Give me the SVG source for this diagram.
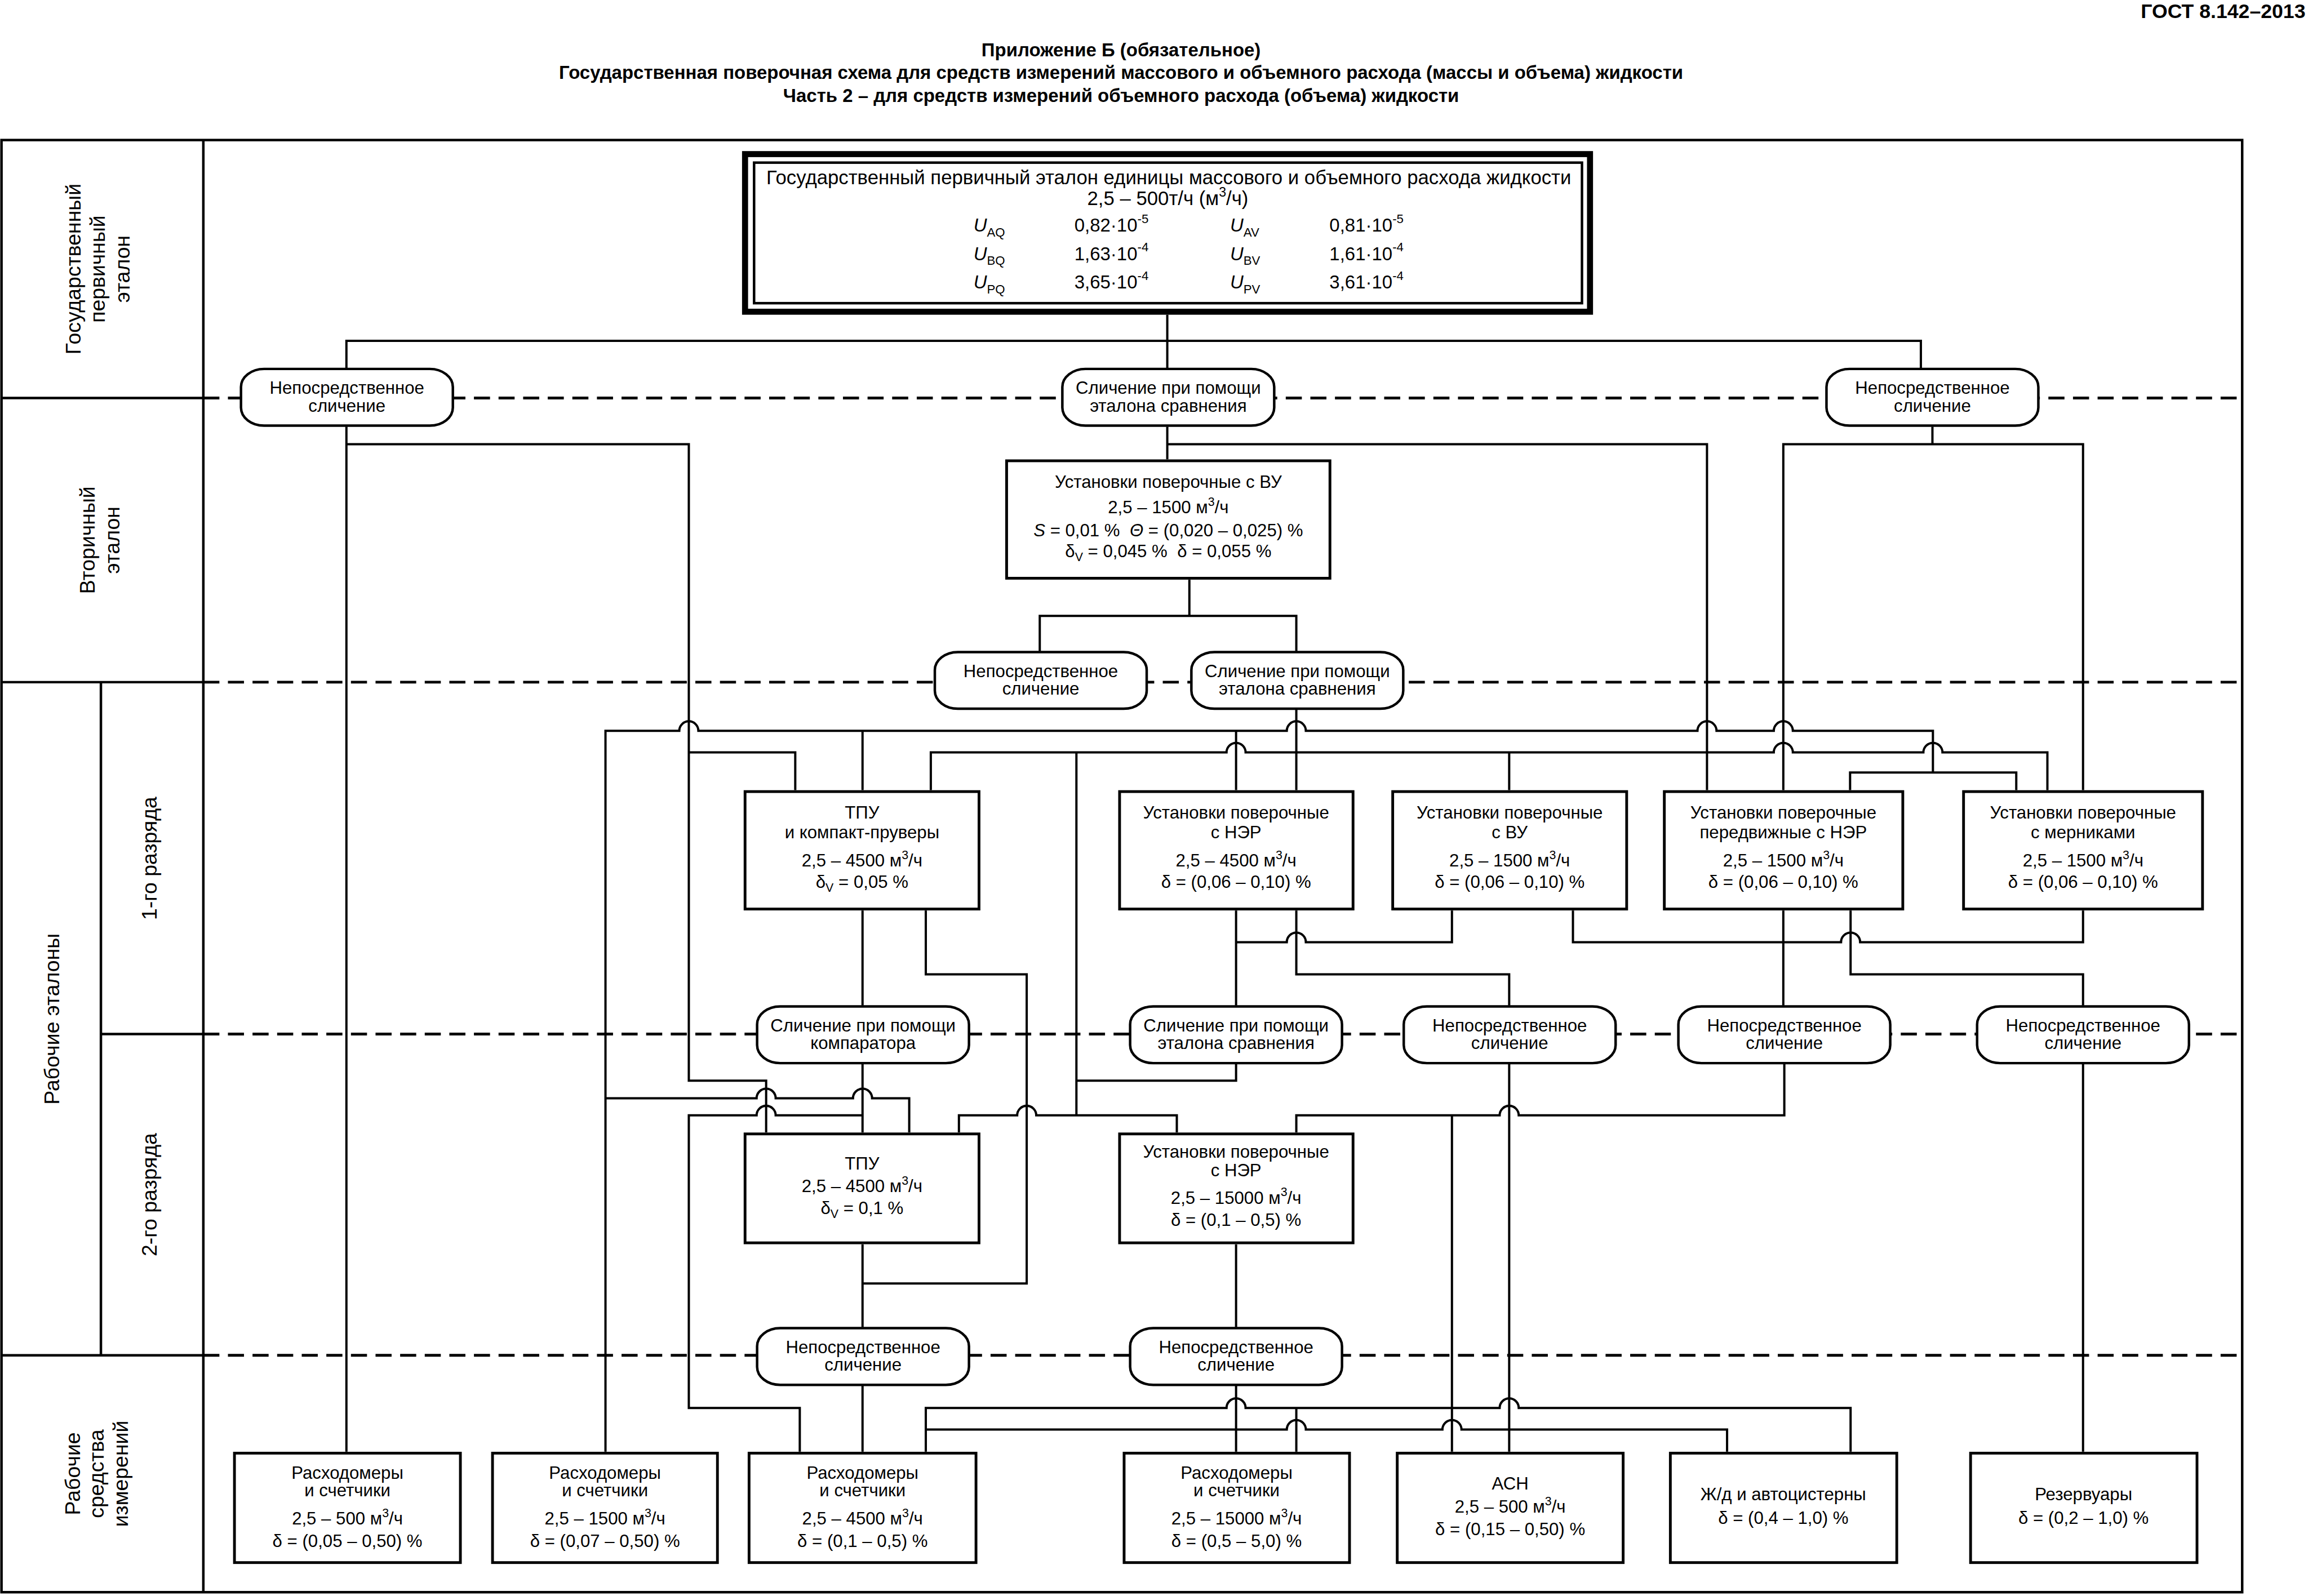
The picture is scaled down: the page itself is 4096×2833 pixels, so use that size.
<svg xmlns="http://www.w3.org/2000/svg" width="4096" height="2833" viewBox="0 0 4096 2833">
<style>
text{font-family:"Liberation Sans",Arial,sans-serif;fill:#000}
.hd{font-size:37px;font-weight:bold;text-anchor:middle}
.gost{font-size:40px;font-weight:bold;text-anchor:end}
.t{font-size:35px;text-anchor:middle}
.tb{font-size:39px;text-anchor:middle}
.tr{font-size:37px}
.lb{font-size:42px;text-anchor:middle}
.fr{fill:none;stroke:#000;stroke-width:5}
.dl{fill:none;stroke:#000;stroke-width:5.5;stroke-dasharray:32 17}
.cn{fill:none;stroke:#000;stroke-width:4.5}
.bx{fill:#fff;stroke:#000;stroke-width:5.5}
.ov{fill:#fff;stroke:#000;stroke-width:5}
.it{font-style:italic}
</style>
<rect width="4096" height="2833" fill="#fff"/>
<g transform="scale(0.891)">
<g id="title">
<text class="gost" x="4592" y="36">ГОСТ 8.142–2013</text>
<text class="hd" x="2233" y="112">Приложение Б (обязательное)</text>
<text class="hd" x="2233" y="157">Государственная поверочная схема для средств измерений массового и объемного расхода (массы и объема) жидкости</text>
<text class="hd" x="2233" y="203">Часть 2 – для средств измерений объемного расхода (объема) жидкости</text>
</g>
<g id="frame">
<rect class="fr" x="3" y="279" width="4463" height="2893"/>
<path class="fr" d="M405 279V3172M201 1359V2700M3 793H405M3 1359H405M201 2060H405M3 2700H405"/>
<path class="dl" d="M405 793H4466M405 1359H4466M405 2060H4466M405 2700H4466"/>
</g>
<g id="labels">
<text class="lb" transform="translate(0,536) rotate(-90)"><tspan x="0" y="160">Государственный</tspan><tspan x="0" y="209">первичный</tspan><tspan x="0" y="258">эталон</tspan></text>
<text class="lb" transform="translate(0,1076) rotate(-90)"><tspan x="0" y="189">Вторичный</tspan><tspan x="0" y="238">эталон</tspan></text>
<text class="lb" transform="translate(0,2030) rotate(-90)"><tspan x="0" y="118">Рабочие эталоны</tspan></text>
<text class="lb" transform="translate(0,1710) rotate(-90)"><tspan x="0" y="312">1-го разряда</tspan></text>
<text class="lb" transform="translate(0,2380) rotate(-90)"><tspan x="0" y="312">2-го разряда</tspan></text>
<text class="lb" transform="translate(0,2936) rotate(-90)"><tspan x="0" y="159">Рабочие</tspan><tspan x="0" y="207">средства</tspan><tspan x="0" y="255">измерений</tspan></text>
</g>
<g id="connectors" class="cn">
<path d="M2325 627V733"/>
<path d="M690 733V679H3826V733"/>
<path d="M690 850V2892"/>
<path d="M690 885H1372V2153H1526V2256"/>
<path d="M2325 850V915"/>
<path d="M2325 885H3400V1574"/>
<path d="M3849 850V885"/>
<path d="M3552 1574V885H4149V1574"/>
<path d="M2369 1155V1227"/>
<path d="M2071 1297V1227H2582V1297"/>
<path d="M2582 1413V1574"/>
<path d="M1206 2892V1456H1353A19 19 0 0 1 1391 1456H2563A19 19 0 0 1 2601 1456H3381A19 19 0 0 1 3419 1456H3533A19 19 0 0 1 3571 1456H3850V1539"/>
<path d="M1718 1456V1574"/>
<path d="M2462 1456V1574"/>
<path d="M3685 1574V1539H4016V1574"/>
<path d="M1372 1499H1584V1574"/>
<path d="M1854 1574V1499H2443A19 19 0 0 1 2481 1499H3533A19 19 0 0 1 3571 1499H3831A19 19 0 0 1 3869 1499H4078V1574"/>
<path d="M3006 1499V1574"/>
<path d="M2144 1499V2222"/>
<path d="M1718 1814V2003"/>
<path d="M1844 1814V1941H2045V2557H1718"/>
<path d="M2462 1814V2003"/>
<path d="M2462 1877H2563A19 19 0 0 1 2601 1877H2892V1814"/>
<path d="M2582 1814V1941H3006V2003"/>
<path d="M3133 1814V1877H3667A19 19 0 0 1 3705 1877H4149V1814"/>
<path d="M3552 1814V2003"/>
<path d="M3686 1814V1941H4149V2003"/>
<path d="M1718 2120V2256"/>
<path d="M2462 2120V2153H2144"/>
<path d="M3006 2120V2892"/>
<path d="M4149 2120V2892"/>
<path d="M1206 2188H1507A19 19 0 0 1 1545 2188H1699A19 19 0 0 1 1737 2188H1811V2256"/>
<path d="M1593 2892V2805H1372V2222H1507A19 19 0 0 1 1545 2222H1718"/>
<path d="M1910 2256V2222H2026A19 19 0 0 1 2064 2222H2344V2256"/>
<path d="M2582 2256V2222H2987A19 19 0 0 1 3025 2222H3554V2120"/>
<path d="M2892 2222V2892"/>
<path d="M1718 2479V2644"/>
<path d="M2462 2479V2644"/>
<path d="M1718 2760V2892"/>
<path d="M2462 2760V2892"/>
<path d="M1844 2892V2805H2443A19 19 0 0 1 2481 2805H2987A19 19 0 0 1 3025 2805H3686V2892"/>
<path d="M2582 2805V2892"/>
<path d="M1844 2848H2563A19 19 0 0 1 2601 2848H2873A19 19 0 0 1 2911 2848H3440V2892"/>
</g>
<g id="n-primary">
<rect x="1484" y="307" width="1683" height="314" fill="#fff" stroke="#000" stroke-width="12"/>
<rect x="1502" y="324" width="1649" height="280" fill="none" stroke="#000" stroke-width="5"/>
<text class="tb" x="2328" y="367">Государственный первичный эталон единицы массового и объемного расхода жидкости</text>
<text class="tb" x="2326" y="408">2,5 – 500т/ч (м<tspan font-size="26" dy="-16">3</tspan><tspan dy="16">/ч)</tspan></text>
<text class="tr" x="1939" y="461"><tspan class="it">U</tspan><tspan font-size="25" dy="10">AQ</tspan></text>
<text class="tr" x="2140" y="461">0,82·10<tspan font-size="25" dy="-17">-5</tspan></text>
<text class="tr" x="2450" y="461"><tspan class="it">U</tspan><tspan font-size="25" dy="10">AV</tspan></text>
<text class="tr" x="2648" y="461">0,81·10<tspan font-size="25" dy="-17">-5</tspan></text>
<text class="tr" x="1939" y="518"><tspan class="it">U</tspan><tspan font-size="25" dy="10">BQ</tspan></text>
<text class="tr" x="2140" y="518">1,63·10<tspan font-size="25" dy="-17">-4</tspan></text>
<text class="tr" x="2450" y="518"><tspan class="it">U</tspan><tspan font-size="25" dy="10">BV</tspan></text>
<text class="tr" x="2648" y="518">1,61·10<tspan font-size="25" dy="-17">-4</tspan></text>
<text class="tr" x="1939" y="575"><tspan class="it">U</tspan><tspan font-size="25" dy="10">PQ</tspan></text>
<text class="tr" x="2140" y="575">3,65·10<tspan font-size="25" dy="-17">-4</tspan></text>
<text class="tr" x="2450" y="575"><tspan class="it">U</tspan><tspan font-size="25" dy="10">PV</tspan></text>
<text class="tr" x="2648" y="575">3,61·10<tspan font-size="25" dy="-17">-4</tspan></text>
</g>
<g id="n-cmp-1a"><rect class="ov" x="480" y="735" width="422" height="113" rx="46" ry="36"/><text class="t" x="691" y="785">Непосредственное</text><text class="t" x="691" y="820">сличение</text></g>
<g id="n-cmp-1b"><rect class="ov" x="2116" y="735" width="422" height="113" rx="46" ry="36"/><text class="t" x="2327" y="785">Сличение при помощи</text><text class="t" x="2327" y="820">эталона сравнения</text></g>
<g id="n-cmp-1c"><rect class="ov" x="3638" y="735" width="422" height="113" rx="46" ry="36"/><text class="t" x="3849" y="785">Непосредственное</text><text class="t" x="3849" y="820">сличение</text></g>
<g id="n-secondary"><rect class="bx" x="2005" y="918" width="644" height="234"/>
<text class="t" x="2327" y="972">Установки поверочные с ВУ</text>
<text class="t" x="2327" y="1023">2,5 – 1500 м<tspan font-size="24" dy="-15">3</tspan><tspan dy="15">/ч</tspan></text>
<text class="t" x="2327" y="1069"><tspan class="it">S</tspan> = 0,01 %&#160; <tspan class="it">Θ</tspan> = (0,020 – 0,025) %</text>
<text class="t" x="2327" y="1110">δ<tspan font-size="24" dy="8">V</tspan><tspan dy="-8"> = 0,045 %&#160; δ = 0,055 %</tspan></text>
</g>
<g id="n-cmp-2a"><rect class="ov" x="1862" y="1299" width="422" height="113" rx="46" ry="36"/><text class="t" x="2073" y="1349">Непосредственное</text><text class="t" x="2073" y="1384">сличение</text></g>
<g id="n-cmp-2b"><rect class="ov" x="2373" y="1299" width="422" height="113" rx="46" ry="36"/><text class="t" x="2584" y="1349">Сличение при помощи</text><text class="t" x="2584" y="1384">эталона сравнения</text></g>
<g id="n-tpu1"><rect class="bx" x="1484" y="1577" width="466" height="234"/>
<text class="t" x="1717" y="1631">ТПУ</text><text class="t" x="1717" y="1670">и компакт-пруверы</text>
<text class="t" x="1717" y="1726">2,5 – 4500 м<tspan font-size="24" dy="-15">3</tspan><tspan dy="15">/ч</tspan></text>
<text class="t" x="1717" y="1769">δ<tspan font-size="24" dy="8">V</tspan><tspan dy="-8"> = 0,05 %</tspan></text></g>
<g id="n-ner1"><rect class="bx" x="2230" y="1577" width="465" height="234"/>
<text class="t" x="2462" y="1631">Установки поверочные</text><text class="t" x="2462" y="1670">с НЭР</text>
<text class="t" x="2462" y="1726">2,5 – 4500 м<tspan font-size="24" dy="-15">3</tspan><tspan dy="15">/ч</tspan></text>
<text class="t" x="2462" y="1769">δ = (0,06 – 0,10) %</text></g>
<g id="n-vu1"><rect class="bx" x="2774" y="1577" width="466" height="234"/>
<text class="t" x="3007" y="1631">Установки поверочные</text><text class="t" x="3007" y="1670">с ВУ</text>
<text class="t" x="3007" y="1726">2,5 – 1500 м<tspan font-size="24" dy="-15">3</tspan><tspan dy="15">/ч</tspan></text>
<text class="t" x="3007" y="1769">δ = (0,06 – 0,10) %</text></g>
<g id="n-mob1"><rect class="bx" x="3315" y="1577" width="475" height="234"/>
<text class="t" x="3552" y="1631">Установки поверочные</text><text class="t" x="3552" y="1670">передвижные с НЭР</text>
<text class="t" x="3552" y="1726">2,5 – 1500 м<tspan font-size="24" dy="-15">3</tspan><tspan dy="15">/ч</tspan></text>
<text class="t" x="3552" y="1769">δ = (0,06 – 0,10) %</text></g>
<g id="n-mer1"><rect class="bx" x="3911" y="1577" width="476" height="234"/>
<text class="t" x="4149" y="1631">Установки поверочные</text><text class="t" x="4149" y="1670">с мерниками</text>
<text class="t" x="4149" y="1726">2,5 – 1500 м<tspan font-size="24" dy="-15">3</tspan><tspan dy="15">/ч</tspan></text>
<text class="t" x="4149" y="1769">δ = (0,06 – 0,10) %</text></g>
<g id="n-cmp-3a"><rect class="ov" x="1508" y="2005" width="422" height="113" rx="46" ry="36"/><text class="t" x="1719" y="2055">Сличение при помощи</text><text class="t" x="1719" y="2090">компаратора</text></g>
<g id="n-cmp-3b"><rect class="ov" x="2251" y="2005" width="422" height="113" rx="46" ry="36"/><text class="t" x="2462" y="2055">Сличение при помощи</text><text class="t" x="2462" y="2090">эталона сравнения</text></g>
<g id="n-cmp-3c"><rect class="ov" x="2796" y="2005" width="422" height="113" rx="46" ry="36"/><text class="t" x="3007" y="2055">Непосредственное</text><text class="t" x="3007" y="2090">сличение</text></g>
<g id="n-cmp-3d"><rect class="ov" x="3343" y="2005" width="422" height="113" rx="46" ry="36"/><text class="t" x="3554" y="2055">Непосредственное</text><text class="t" x="3554" y="2090">сличение</text></g>
<g id="n-cmp-3e"><rect class="ov" x="3938" y="2005" width="422" height="113" rx="46" ry="36"/><text class="t" x="4149" y="2055">Непосредственное</text><text class="t" x="4149" y="2090">сличение</text></g>
<g id="n-tpu2"><rect class="bx" x="1484" y="2259" width="466" height="217"/>
<text class="t" x="1717" y="2330">ТПУ</text>
<text class="t" x="1717" y="2375">2,5 – 4500 м<tspan font-size="24" dy="-15">3</tspan><tspan dy="15">/ч</tspan></text>
<text class="t" x="1717" y="2419">δ<tspan font-size="24" dy="8">V</tspan><tspan dy="-8"> = 0,1 %</tspan></text></g>
<g id="n-ner2"><rect class="bx" x="2230" y="2259" width="465" height="217"/>
<text class="t" x="2462" y="2306">Установки поверочные</text><text class="t" x="2462" y="2343">с НЭР</text>
<text class="t" x="2462" y="2398">2,5 – 15000 м<tspan font-size="24" dy="-15">3</tspan><tspan dy="15">/ч</tspan></text>
<text class="t" x="2462" y="2442">δ = (0,1 – 0,5) %</text></g>
<g id="n-cmp-4a"><rect class="ov" x="1508" y="2646" width="422" height="113" rx="46" ry="36"/><text class="t" x="1719" y="2696">Непосредственное</text><text class="t" x="1719" y="2731">сличение</text></g>
<g id="n-cmp-4b"><rect class="ov" x="2251" y="2646" width="422" height="113" rx="46" ry="36"/><text class="t" x="2462" y="2696">Непосредственное</text><text class="t" x="2462" y="2731">сличение</text></g>
<g id="n-wm1"><rect class="bx" x="467" y="2895" width="450" height="218"/>
<text class="t" x="692" y="2946">Расходомеры</text><text class="t" x="692" y="2981">и счетчики</text>
<text class="t" x="692" y="3037">2,5 – 500 м<tspan font-size="24" dy="-15">3</tspan><tspan dy="15">/ч</tspan></text>
<text class="t" x="692" y="3082">δ = (0,05 – 0,50) %</text></g>
<g id="n-wm2"><rect class="bx" x="981" y="2895" width="448" height="218"/>
<text class="t" x="1205" y="2946">Расходомеры</text><text class="t" x="1205" y="2981">и счетчики</text>
<text class="t" x="1205" y="3037">2,5 – 1500 м<tspan font-size="24" dy="-15">3</tspan><tspan dy="15">/ч</tspan></text>
<text class="t" x="1205" y="3082">δ = (0,07 – 0,50) %</text></g>
<g id="n-wm3"><rect class="bx" x="1492" y="2895" width="452" height="218"/>
<text class="t" x="1718" y="2946">Расходомеры</text><text class="t" x="1718" y="2981">и счетчики</text>
<text class="t" x="1718" y="3037">2,5 – 4500 м<tspan font-size="24" dy="-15">3</tspan><tspan dy="15">/ч</tspan></text>
<text class="t" x="1718" y="3082">δ = (0,1 – 0,5) %</text></g>
<g id="n-wm4"><rect class="bx" x="2239" y="2895" width="449" height="218"/>
<text class="t" x="2463" y="2946">Расходомеры</text><text class="t" x="2463" y="2981">и счетчики</text>
<text class="t" x="2463" y="3037">2,5 – 15000 м<tspan font-size="24" dy="-15">3</tspan><tspan dy="15">/ч</tspan></text>
<text class="t" x="2463" y="3082">δ = (0,5 – 5,0) %</text></g>
<g id="n-asn"><rect class="bx" x="2783" y="2895" width="450" height="218"/>
<text class="t" x="3008" y="2968">АСН</text>
<text class="t" x="3008" y="3014">2,5 – 500 м<tspan font-size="24" dy="-15">3</tspan><tspan dy="15">/ч</tspan></text>
<text class="t" x="3008" y="3058">δ = (0,15 – 0,50) %</text></g>
<g id="n-tank"><rect class="bx" x="3327" y="2895" width="451" height="218"/>
<text class="t" x="3552" y="2989">Ж/д и автоцистерны</text>
<text class="t" x="3552" y="3036">δ = (0,4 – 1,0) %</text></g>
<g id="n-res"><rect class="bx" x="3925" y="2895" width="451" height="218"/>
<text class="t" x="4150" y="2989">Резервуары</text>
<text class="t" x="4150" y="3036">δ = (0,2 – 1,0) %</text></g>
</g>
</svg>
